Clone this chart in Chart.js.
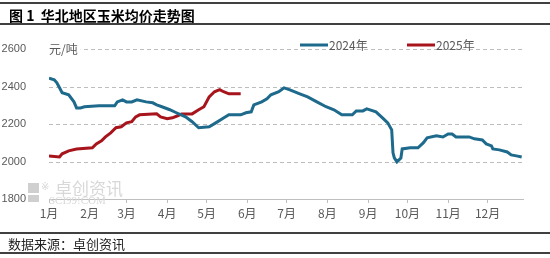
<!DOCTYPE html>
<html>
<head>
<meta charset="utf-8">
<script src="https://cdn.jsdelivr.net/npm/chart.js@4.4.1/dist/chart.umd.min.js"></script>
<style>
  html, body { margin: 0; padding: 0; background: #fff; }
  #wrap { width: 550px; height: 258px; position: relative; }
</style>
</head>
<body>
<div id="wrap"><canvas id="myChart" width="550" height="258"></canvas></div>
<script>
// month labels and the day of year each one starts on
const monthLabels = ['1月', '2月', '3月', '4月', '5月', '6月', '7月', '8月', '9月', '10月', '11月', '12月'];
const monthStarts = [0, 31, 59, 90, 120, 151, 181, 212, 243, 273, 304, 334];
const yTicks = [1800, 2000, 2200, 2400, 2600];

// 2024 series: day of year and price (元/吨)
const days2024 = [0, 4, 6, 8, 10, 15, 19, 21, 24, 27, 38, 50, 52, 56, 59, 63, 67, 74, 79, 82, 86, 92, 97, 104, 109, 114,
  122, 127, 132, 137, 146, 150, 154, 156, 162, 166, 169, 175, 179, 183, 191, 197, 204, 211, 217, 223, 231, 234, 239, 242,
  249, 254, 258, 261, 262, 263, 265, 268, 269, 275, 281, 285, 288, 295, 300, 304, 307, 310, 320, 324, 330, 333, 337, 338,
  343, 349, 352, 356, 360];
const price2024 = [2445, 2436, 2420, 2393, 2367, 2356, 2318, 2286, 2286, 2292, 2297, 2297, 2318, 2329, 2318, 2318, 2329, 2318, 2313, 2302, 2292, 2276, 2260, 2238, 2212, 2180,
  2185, 2206, 2228, 2249, 2249, 2260, 2265, 2302, 2318, 2334, 2356, 2372, 2393, 2383, 2361, 2345, 2318, 2292, 2276, 2249, 2249, 2270, 2270, 2281,
  2265, 2233, 2206, 2169, 2046, 2019, 1998, 2019, 2067, 2073, 2073, 2099, 2126, 2137, 2131, 2147, 2147, 2131, 2131, 2121, 2115, 2094, 2083, 2067,
  2062, 2051, 2035, 2030, 2024];

// 2025 series
const days2025 = [0, 8, 10, 15, 21, 33, 36, 40, 43, 47, 51, 55, 59, 63, 66, 69, 82, 85, 90, 94, 98, 101, 109, 114, 118, 122, 126, 130, 133, 137, 146];
const price2025 = [2030, 2024, 2041, 2057, 2067, 2073, 2094, 2110, 2131, 2153, 2180, 2185, 2206, 2212, 2238, 2249, 2254, 2238, 2228, 2233, 2244, 2254, 2254, 2276, 2292, 2345, 2372, 2383, 2372, 2361, 2361];

const blue = '#1d6a8c';
const red = '#a8141c';

function toPoints(xs, ys) {
  return xs.map((x, i) => ({ x: x, y: ys[i] }));
}

// title, frame lines, dashed grid, unit, legend, footer
const decor = {
  id: 'decor',
  beforeDatasetsDraw(chart) {
    const ctx = chart.ctx;
    const a = chart.chartArea;
    const ys = chart.scales.y;
    ctx.save();
    // dashed horizontal grid
    ctx.strokeStyle = '#bdbdbd';
    ctx.lineWidth = 1;
    ctx.setLineDash([4, 3]);
    yTicks.forEach(v => {
      if (v === 1800) return;
      const y = Math.round(ys.getPixelForValue(v)) + 0.5;
      ctx.beginPath();
      ctx.moveTo(a.left, y);
      ctx.lineTo(a.right, y);
      ctx.stroke();
    });
    ctx.setLineDash([]);
    // watermark
    ctx.fillStyle = '#cfcfcf';
    ctx.fillRect(28, 183, 11, 10);
    ctx.fillRect(28, 195, 11, 7);
    ctx.font = '10px "DejaVu Sans"';
    ctx.fillStyle = '#d5d5d5';
    ctx.textBaseline = 'middle';
    ctx.fillText('※', 41, 187);
    ctx.font = '17px "Noto Sans CJK SC"';
    ctx.fillStyle = '#d8d8d8';
    ctx.fillText('卓创资讯', 55, 189);
    ctx.font = '11px "Liberation Serif"';
    ctx.fillText('SCI99!COM', 49, 201);
    ctx.restore();
  },
  afterDraw(chart) {
    const ctx = chart.ctx;
    const a = chart.chartArea;
    ctx.save();
    ctx.strokeStyle = '#000';
    ctx.lineWidth = 1.5;
    [3, 24, 233, 253].forEach(y => {
      ctx.beginPath();
      ctx.moveTo(0, y);
      ctx.lineTo(550, y);
      ctx.stroke();
    });
    ctx.fillStyle = '#000';
    ctx.textBaseline = 'middle';
    ctx.font = 'bold 14px "Noto Sans CJK SC"';
    ctx.fillText('图 1  华北地区玉米均价走势图', 9, 16);
    ctx.font = '13px "Noto Sans CJK SC"';
    ctx.fillStyle = '#222';
    ctx.fillText('数据来源：卓创资讯', 8, 244);

    // unit label over the top grid line
    ctx.font = '12px "Noto Sans CJK SC"';
    const w = ctx.measureText('元/吨').width;
    ctx.fillStyle = '#fff';
    ctx.fillRect(a.left - 1, a.top - 7, w + 4, 14);
    ctx.fillStyle = '#595959';
    ctx.fillText('元/吨', a.left, a.top);

    // legend
    const items = [[blue, '2024年', 300], [red, '2025年', 407]];
    ctx.font = '12px "Noto Sans CJK SC"';
    items.forEach(it => {
      ctx.strokeStyle = it[0];
      ctx.lineWidth = 3;
      ctx.beginPath();
      ctx.moveTo(it[2], 45);
      ctx.lineTo(it[2] + 28, 45);
      ctx.stroke();
      ctx.fillStyle = '#595959';
      ctx.fillText(it[1], it[2] + 29, 45);
    });
    ctx.restore();
  }
};

const ctx = document.getElementById('myChart').getContext('2d');
const chart = new Chart(ctx, {
  type: 'line',
  data: {
    datasets: [
      {
        label: '2024年',
        data: toPoints(days2024, price2024),
        borderColor: blue,
        backgroundColor: blue,
        borderWidth: 3,
        pointRadius: 0,
        tension: 0
      },
      {
        label: '2025年',
        data: toPoints(days2025, price2025),
        borderColor: red,
        backgroundColor: red,
        borderWidth: 3,
        pointRadius: 0,
        tension: 0
      }
    ]
  },
  options: {
    responsive: false,
    animation: false,
    layout: { padding: { top: 49, right: 27, left: 0, bottom: 0 } },
    plugins: {
      legend: { display: false },
      tooltip: { enabled: false }
    },
    scales: {
      x: {
        type: 'linear',
        min: 0,
        max: 361,
        afterBuildTicks: function (scale) {
          scale.ticks = monthStarts.map(v => ({ value: v }));
        },
        afterFit: function (scale) {
          scale.height = 59;
        },
        ticks: {
          autoSkip: false,
          maxRotation: 0,
          padding: 3,
          color: '#595959',
          font: { family: '"Noto Sans CJK SC"', size: 12 },
          callback: function (value) {
            return monthLabels[monthStarts.indexOf(value)];
          }
        },
        grid: { drawOnChartArea: false, drawTicks: true, tickLength: 4, color: '#bfbfbf' },
        border: { display: true, color: '#bfbfbf', width: 1 }
      },
      y: {
        min: 1800,
        max: 2600,
        afterBuildTicks: function (scale) {
          scale.ticks = yTicks.map(v => ({ value: v }));
        },
        afterFit: function (scale) {
          scale.width = 49;
        },
        ticks: {
          padding: 15,
          color: '#595959',
          font: { family: '"Liberation Sans"', size: 11 },
          callback: function (value) {
            return String(value);
          }
        },
        grid: { display: false },
        border: { display: false }
      }
    }
  },
  plugins: [decor]
});
</script>
</body>
</html>
